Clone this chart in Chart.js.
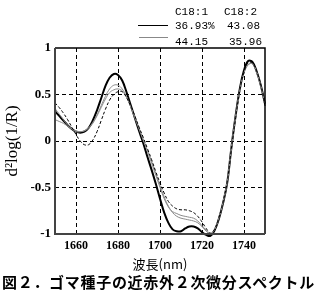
<!DOCTYPE html>
<html><head><meta charset="utf-8">
<script src="https://cdn.jsdelivr.net/npm/chart.js@4/dist/chart.umd.min.js"></script>
<style>
html,body{margin:0;padding:0;background:#fff;}
#wrap{position:relative;width:317px;height:298px;overflow:hidden;}
#c{position:absolute;left:0;top:0;}
.t{position:absolute;white-space:nowrap;font-family:"Liberation Mono","DejaVu Sans Mono",monospace;font-size:11px;color:#000;line-height:12px;}
.ln{position:absolute;height:0;}
#cap{position:absolute;left:2px;top:273px;width:315px;font-family:"Noto Sans CJK JP",sans-serif;font-weight:bold;font-size:15px;line-height:18px;letter-spacing:0.7px;color:#000;white-space:nowrap;}
</style></head><body>
<div id="wrap">
<canvas id="c" width="317" height="298"></canvas>
<div class="t" style="left:175px;top:6px;">C18:1</div>
<div class="t" style="left:224px;top:6px;">C18:2</div>
<div class="ln" style="left:138px;top:25px;width:30px;border-top:1.5px solid #000;"></div>
<div class="t" style="left:175px;top:20px;">36.93%</div>
<div class="t" style="left:227px;top:20px;">43.08</div>
<div class="ln" style="left:139px;top:37px;width:29px;border-top:1px solid #888;"></div>
<div class="t" style="left:175px;top:36px;">44.15</div>
<div class="t" style="left:229px;top:36px;">35.96</div>
<div id="cap">図２．ゴマ種子の近赤外２次微分スペクトル</div>
</div>
<script>
const wavelengths = [1650,1652,1654,1656,1658,1660,1662,1664,1666,1668,1670,1672,1674,1676,1678,1680,1682,1684,1686,1688,1690,1692,1694,1696,1698,1700,1702,1704,1706,1708,1710,1712,1714,1716,1718,1720,1722,1724,1726,1728,1730,1732,1734,1736,1738,1740,1742,1744,1746,1748,1750];
const sampleA = [0.32,0.27,0.22,0.17,0.13,0.10,0.09,0.10,0.14,0.22,0.33,0.46,0.59,0.68,0.72,0.71,0.65,0.53,0.39,0.25,0.11,-0.02,-0.17,-0.31,-0.46,-0.62,-0.77,-0.88,-0.95,-0.97,-0.97,-0.94,-0.92,-0.92,-0.94,-0.98,-1.01,-1.02,-0.96,-0.84,-0.67,-0.45,-0.07,0.27,0.56,0.76,0.86,0.85,0.75,0.60,0.40];
const sampleB = [0.35,0.29,0.23,0.17,0.13,0.10,0.10,0.11,0.14,0.20,0.28,0.38,0.48,0.56,0.60,0.60,0.56,0.48,0.37,0.25,0.13,0.01,-0.11,-0.24,-0.37,-0.50,-0.62,-0.71,-0.76,-0.78,-0.80,-0.81,-0.82,-0.83,-0.86,-0.91,-0.96,-1.00,-0.95,-0.83,-0.66,-0.44,-0.07,0.26,0.54,0.73,0.82,0.83,0.74,0.59,0.38];
const sampleC = [0.23,0.21,0.19,0.16,0.13,0.11,0.10,0.11,0.14,0.19,0.27,0.36,0.45,0.52,0.55,0.56,0.54,0.47,0.37,0.26,0.14,0.02,-0.10,-0.22,-0.35,-0.48,-0.60,-0.70,-0.77,-0.81,-0.83,-0.84,-0.85,-0.86,-0.88,-0.92,-0.97,-1.00,-0.95,-0.83,-0.66,-0.44,-0.07,0.26,0.54,0.73,0.82,0.83,0.74,0.59,0.38];
const sampleD = [0.41,0.36,0.30,0.23,0.15,0.07,0.00,-0.04,-0.04,0.01,0.10,0.22,0.34,0.44,0.50,0.53,0.53,0.47,0.38,0.27,0.15,0.04,-0.08,-0.20,-0.33,-0.45,-0.56,-0.65,-0.70,-0.73,-0.74,-0.74,-0.75,-0.77,-0.81,-0.87,-0.94,-0.99,-0.95,-0.83,-0.66,-0.44,-0.08,0.25,0.54,0.74,0.84,0.84,0.75,0.60,0.38];
const xTicks = [1660,1680,1700,1720,1740];
const xTickLabels = ['1660','1680','1700','1720','1740'];
const yTicks = [-1,-0.5,0,0.5,1];
const yTickLabels = ['-1','-0.5','0','0.5','1'];

function pts(vals){ return wavelengths.map((w,i)=>({x:w,y:vals[i]})); }

const frame = {
  id:'frame',
  afterDatasetsDraw(chart){
    const {ctx, chartArea:a} = chart;
    ctx.save();
    ctx.strokeStyle='#000';
    ctx.lineWidth=1.5;
    ctx.beginPath();
    ctx.moveTo(a.left,a.top);ctx.lineTo(a.right,a.top);ctx.lineTo(a.right,a.bottom);
    ctx.stroke();
    ctx.strokeStyle='#444';
    ctx.lineWidth=2;
    ctx.beginPath();
    ctx.moveTo(a.left,a.top);ctx.lineTo(a.left,a.bottom);ctx.lineTo(a.right,a.bottom);
    ctx.stroke();
    ctx.restore();
  }
};

const gridColor = (ctx) => {
  const v = ctx.tick ? ctx.tick.value : null;
  if (v === null) return 'transparent';
  if (ctx.scale.axis === 'x') return (v===1650||v===1750)?'transparent':'#000';
  return (v===-1||v===1)?'transparent':'#000';
};

new Chart(document.getElementById('c'), {
  type:'line',
  data:{datasets:[
    {data:pts(sampleD), borderColor:'#000', borderWidth:1, borderDash:[3,2], pointRadius:0, tension:0.4, clip:4},
    {data:pts(sampleC), borderColor:'#8a8a8a', borderWidth:1, pointRadius:0, tension:0.4, clip:4},
    {data:pts(sampleB), borderColor:'#8a8a8a', borderWidth:1, pointRadius:0, tension:0.4, clip:4},
    {data:pts(sampleA), borderColor:'#000', borderWidth:2, pointRadius:0, tension:0.4, clip:4}
  ]},
  options:{
    responsive:false, animation:false, devicePixelRatio:1,
    layout:{padding:{top:48,right:52,left:0,bottom:24}},
    plugins:{legend:{display:false},tooltip:{enabled:false}},
    scales:{
      x:{type:'linear',min:1650,max:1750,
        afterBuildTicks:(s)=>{s.ticks=xTicks.map(v=>({value:v}));},
        afterFit:(s)=>{s.height=40;},
        grid:{color:gridColor,lineWidth:1,drawTicks:false},
        border:{display:false,dash:[4,3]},
        ticks:{padding:5,color:'#000',font:{family:'"Liberation Serif",serif',weight:'bold',size:12},maxRotation:0,
          callback:(v)=>{const i=xTicks.indexOf(v);return i>=0?xTickLabels[i]:'';}},
        title:{display:true,text:'波長(nm)',color:'#000',font:{family:'"Noto Sans CJK JP",sans-serif',size:13},padding:{top:0,bottom:2}}
      },
      y:{type:'linear',min:-1,max:1,
        afterBuildTicks:(s)=>{s.ticks=yTicks.map(v=>({value:v}));},
        afterFit:(s)=>{s.width=55;},
        grid:{color:gridColor,lineWidth:1,drawTicks:false},
        border:{display:false,dash:[4,3]},
        ticks:{padding:4,color:'#000',font:{family:'"Liberation Serif",serif',weight:'bold',size:13},
          callback:(v)=>{const i=yTicks.indexOf(v);return i>=0?yTickLabels[i]:'';}},
        title:{display:true,text:'d²log(1/R)',color:'#000',font:{family:'"Liberation Serif",serif',size:17},padding:{top:2,bottom:0}}
      }
    }
  },
  plugins:[frame]
});
</script>
</body></html>
